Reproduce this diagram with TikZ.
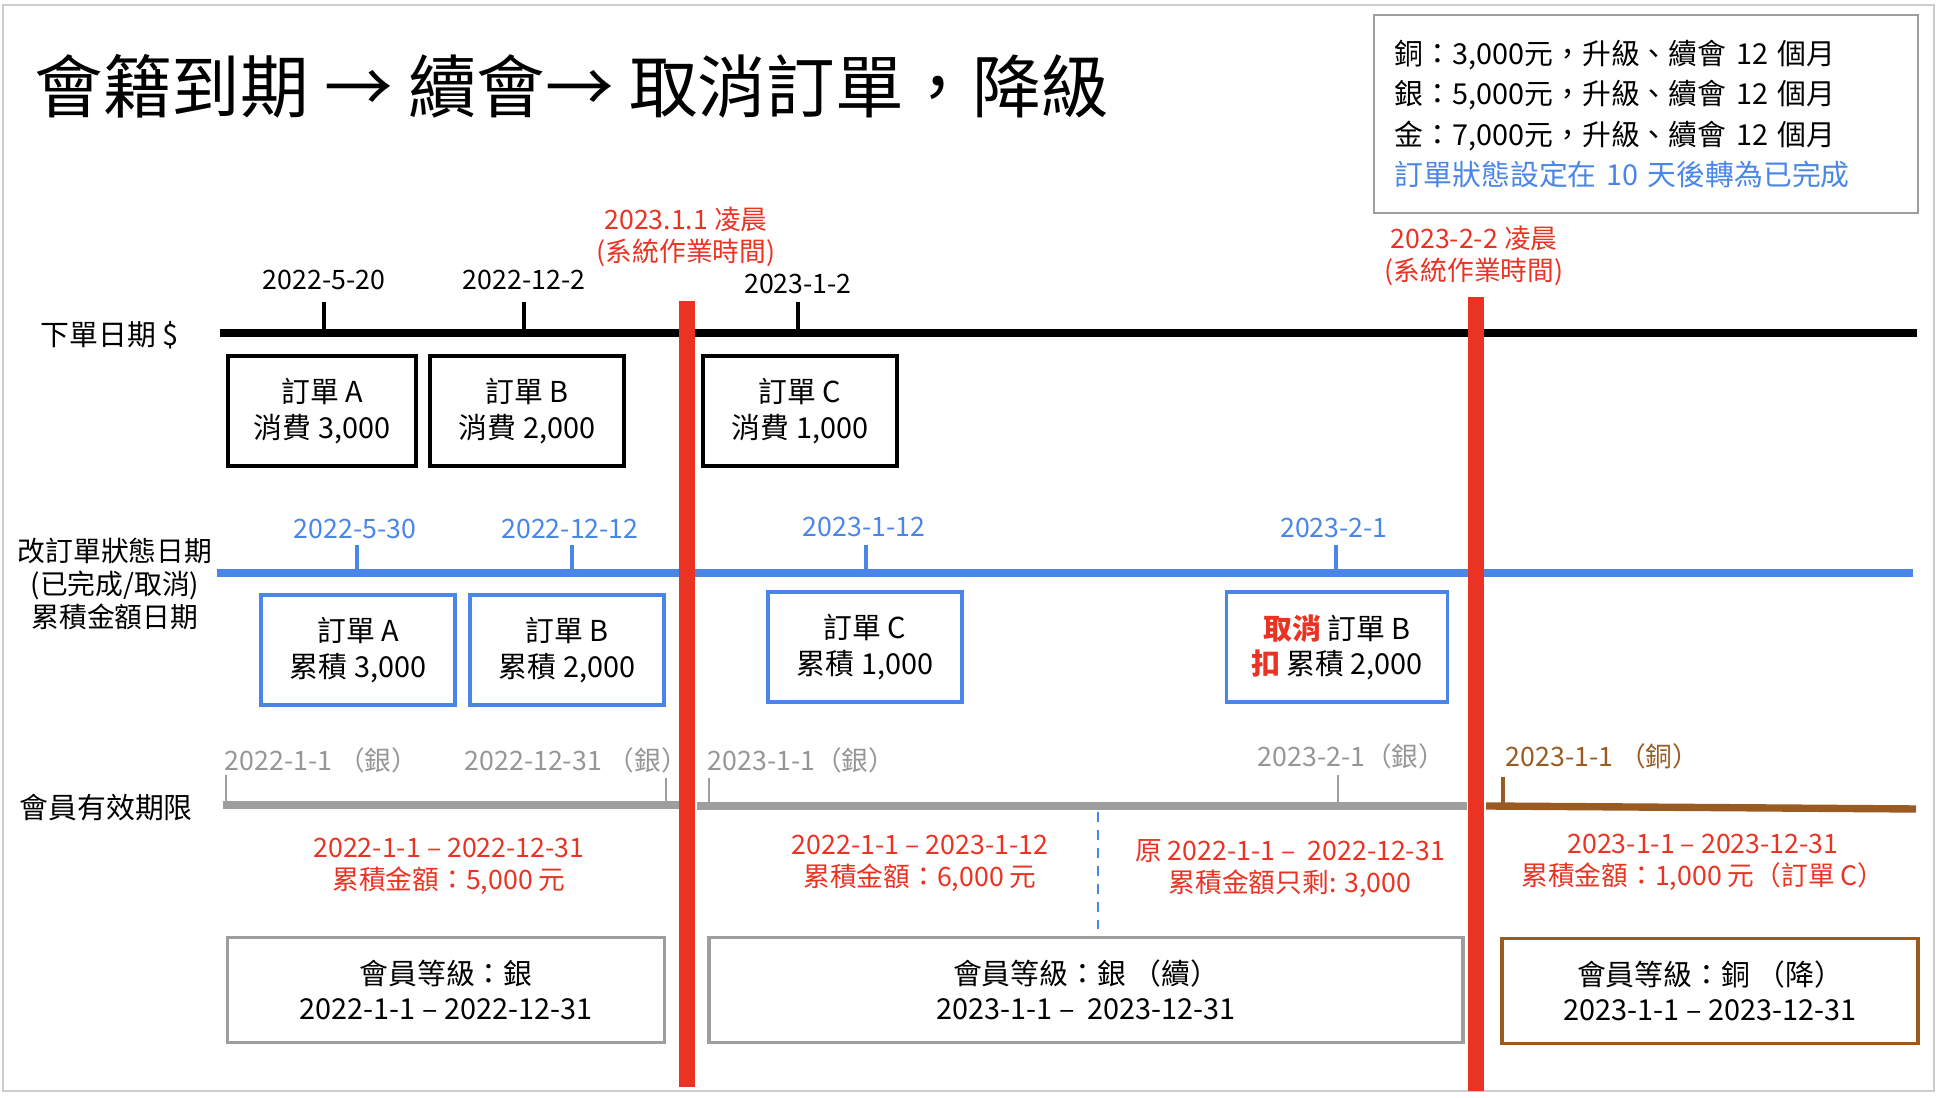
\documentclass[tikz,border=0pt]{standalone}
\usepackage{fontspec}
\setmainfont{Noto Sans CJK TC}
\usepackage{tikz}
\usetikzlibrary{positioning}

\definecolor{sysred}{RGB}{234,51,35}
\definecolor{lineblue}{RGB}{74,134,232}
\definecolor{linegray}{RGB}{158,158,158}
\definecolor{textgray}{RGB}{150,150,150}
\definecolor{bronze}{RGB}{153,91,34}

\newcommand\titlesize{\fontsize{19.5pt}{23pt}\selectfont}
\newcommand\boxsize{\fontsize{8.2pt}{10pt}\selectfont}
\newcommand\labelsize{\fontsize{7.6pt}{9.1pt}\selectfont}

\tikzset{
    timeline/.style={line width=2.1pt},
    datetick/.style={line width=0.9pt},
    cutoff/.style={sysred, line width=4.3pt},
    orderbox/.style={draw, line width=1pt, minimum width=1.94cm, minimum height=1.1cm,
        align=center, font=\boxsize, inner sep=0pt},
    memberbox/.style={draw=linegray, line width=1pt, minimum height=1.05cm,
        align=center, font=\boxsize, inner sep=0pt},
    datelabel/.style={font=\labelsize, inner sep=0pt},
    redtext/.style={font=\labelsize, text=sysred, align=center, inner sep=0pt},
    rowlabel/.style={font=\boxsize, inner sep=0pt, align=center},
}

\begin{document}
\begin{tikzpicture}[x=0.01cm, y=-0.01cm]

    \useasboundingbox (0,0) rectangle (1938,1098);
    \draw[gray!40, line width=0.6pt] (3,5) rectangle (1934,1091);

    \node[anchor=west, font=\titlesize, inner sep=0pt] (title) at (34,86)
        {會籍到期 → 續會→ 取消訂單，降級};

    \node[draw=linegray, line width=0.6pt, minimum width=5.44cm, minimum height=1.98cm,
        text width=5.02cm, align=left, inner sep=0pt,
        font=\fontsize{8.2pt}{11.5pt}\selectfont] (info) at (1646,114)
        {銅：3,000元，升級、續會 12 個月\\
         銀：5,000元，升級、續會 12 個月\\
         金：7,000元，升級、續會 12 個月\\
         \textcolor{lineblue}{訂單狀態設定在 10 天後轉為已完成}};

    % 下單
    \begin{scope}
        \draw[timeline] (220,333) -- (1917,333);
        \node[rowlabel, anchor=west] (buyrow) at (40,335) {下單日期 \$};

        \foreach \x/\y/\d [count=\i] in {324/280/2022-5-20, 524/280/2022-12-2, 798/284/2023-1-2} {
            \draw[datetick] (\x,302) -- (\x,333);
            \node[datelabel] (buy\i) at (\x,\y) {\d};
        }

        \node[orderbox, minimum width=1.88cm] (buyA) at (322,411) {訂單 A\\消費 3,000};
        \node[orderbox] (buyB) at (527,411) {訂單 B\\消費 2,000};
        \node[orderbox] (buyC) at (800,411) {訂單 C\\消費 1,000};
    \end{scope}

    % 改訂單狀態
    \begin{scope}
        \draw[timeline, lineblue] (217,573) -- (1913,573);
        \node[rowlabel, font=\fontsize{7.9pt}{9.4pt}\selectfont] (staterow) at (115,584)
            {改訂單狀態日期\\(已完成/取消)\\累積金額日期};

        \foreach \x/\y/\d [count=\i] in {357/529/2022-5-30, 572/529/2022-12-12,
                866/527/2023-1-12, 1336/528/2023-2-1} {
            \draw[datetick, lineblue] (\x,545) -- (\x,573);
            \node[datelabel, text=lineblue] (state\i) at (\x-2,\y) {\d};
        }

        \node[orderbox, draw=lineblue] (sumA) at (358,650) {訂單 A\\累積 3,000};
        \node[orderbox, draw=lineblue] (sumB) at (567,650) {訂單 B\\累積 2,000};
        \node[orderbox, draw=lineblue] (sumC) at (865,647) {訂單 C\\累積 1,000};
        \node[orderbox, draw=lineblue, minimum width=2.21cm] (cancelB) at (1337,647)
            {\textcolor{sysred}{\bfseries 取消} 訂單 B\\\textcolor{sysred}{\bfseries 扣} 累積 2,000};
    \end{scope}

    % 會員有效期限
    \begin{scope}
        \node[rowlabel, anchor=west] (memberrow) at (19,808) {會員有效期限};

        \draw[timeline, linegray] (223,805) -- (681,805);
        \draw[timeline, linegray] (697,806) -- (1467,806);
        \draw[timeline, bronze] (1486,806) -- (1916,809);

        \draw[linegray, line width=0.6pt] (226,775) -- (226,805);
        \draw[linegray, line width=0.6pt] (666,778) -- (666,805);
        \draw[linegray, line width=0.6pt] (709,778) -- (709,806);
        \draw[linegray, line width=0.6pt] (1338,775) -- (1338,806);
        \draw[bronze, datetick] (1503,777) -- (1503,806);

        \node[datelabel, text=textgray, anchor=west] (valid1) at (224,760) {2022-1-1 （銀）};
        \node[datelabel, text=textgray, anchor=west] (valid2) at (464,760) {2022-12-31 （銀）};
        \node[datelabel, text=textgray, anchor=west] (valid3) at (707,760) {2023-1-1（銀）};
        \node[datelabel, text=textgray, anchor=west] (valid4) at (1257,756) {2023-2-1（銀）};
        \node[datelabel, text=bronze, anchor=west] (valid5) at (1505,756) {2023-1-1 （銅）};

        \draw[lineblue, line width=0.5pt, dash pattern=on 2.8pt off 2.3pt] (1098,812) -- (1098,932);

        \node[redtext] (total1) at (449,866) {2022-1-1 – 2022-12-31\\累積金額：5,000 元};
        \node[redtext] (total2) at (920,863) {2022-1-1 – 2023-1-12\\累積金額：6,000 元};
        \node[redtext] (total3) at (1290,869) {原 2022-1-1 –\ \ 2022-12-31\\累積金額只剩: 3,000};
        \node[redtext] (total4) at (1703,862) {2023-1-1 – 2023-12-31\\累積金額：1,000 元（訂單 C）};

        \node[memberbox, minimum width=4.37cm] (level1) at (446,990)
            {會員等級：銀\\2022-1-1 – 2022-12-31};
        \node[memberbox, minimum width=7.54cm] (level2) at (1086,990)
            {會員等級：銀 （續）\\2023-1-1 –\ \ 2023-12-31};
        \node[memberbox, draw=bronze, minimum width=4.16cm] (level3) at (1710,991)
            {會員等級：銅 （降）\\2023-1-1 – 2023-12-31};
    \end{scope}

    % 系統作業時間
    \draw[cutoff] (687,301) -- (687,1087);
    \draw[cutoff] (1476,297) -- (1476,1091);
    \node[redtext] (run1) at (686,237) {2023.1.1 凌晨\\(系統作業時間)};
    \node[redtext] (run2) at (1474,256) {2023-2-2 凌晨\\(系統作業時間)};

\end{tikzpicture}
\end{document}
